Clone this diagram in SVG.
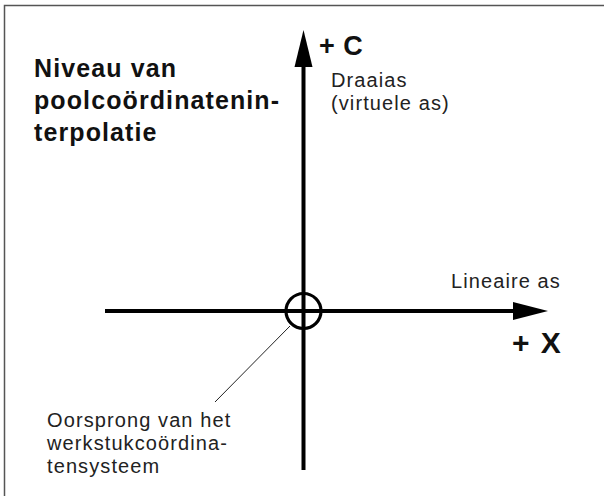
<svg xmlns="http://www.w3.org/2000/svg" width="604" height="496" viewBox="0 0 604 496">
<style>
.t{font-family:"Liberation Sans",Arial,sans-serif;fill:#222;font-size:20px;letter-spacing:1.1px}
.b{font-family:"Liberation Sans",Arial,sans-serif;fill:#111;font-weight:bold}
.ax{stroke:#000;stroke-width:4;fill:none}
</style>
<rect width="604" height="496" fill="#fff"/>
<g id="frame"><path d="M4.5,496 V5.5 H604" fill="none" stroke="#555" stroke-width="1.5"/></g>
<g id="title" class="b" font-size="25" letter-spacing="1.1">
<text x="34" y="77">Niveau van</text>
<text x="34" y="109">poolcoördinatenin-</text>
<text x="34" y="141">terpolatie</text>
</g>
<g id="connectors">
<line class="ax" x1="303.5" y1="470" x2="303.5" y2="64"/>
<polygon points="303.5,30 294.5,67 312.5,67" fill="#000"/>
<line class="ax" x1="105" y1="311" x2="518" y2="311"/>
<polygon points="548,311 513,302 513,320" fill="#000"/>
<line x1="290" y1="326" x2="215" y2="402" stroke="#222" stroke-width="1"/>
</g>
<g id="origin"><circle cx="303.5" cy="311" r="17.5" fill="none" stroke="#000" stroke-width="3.2"/></g>
<g id="c-axis-label">
<text class="b" font-size="27" letter-spacing="0.5" x="319" y="55">+ C</text>
<text class="t" x="331" y="87">Draaias</text>
<text class="t" x="331" y="110">(virtuele as)</text>
</g>
<g id="x-axis-label">
<text class="t" x="451" y="288">Lineaire as</text>
<text class="b" font-size="30" letter-spacing="1.5" x="512" y="353">+ X</text>
</g>
<g id="origin-label">
<text class="t" x="47" y="427">Oorsprong van het</text>
<text class="t" x="47" y="450">werkstukcoördina-</text>
<text class="t" x="47" y="473">tensysteem</text>
</g>
</svg>
